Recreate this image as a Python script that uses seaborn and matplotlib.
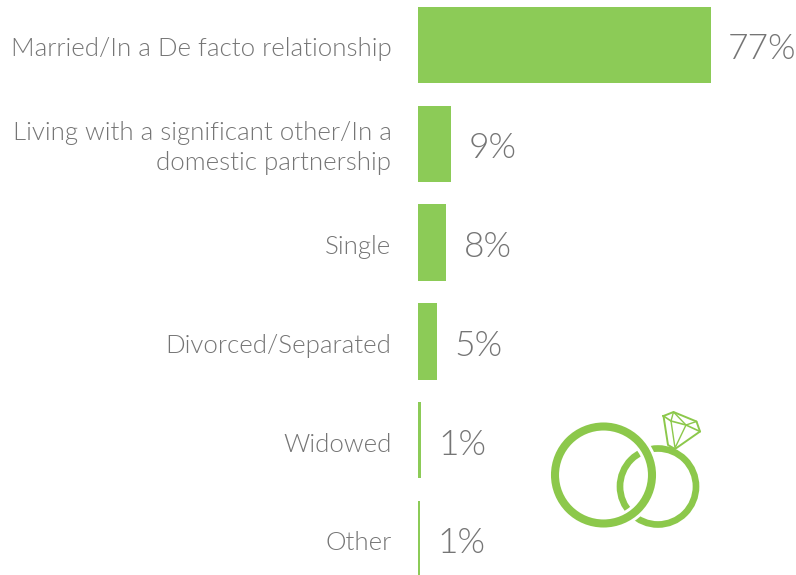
import matplotlib
matplotlib.use("Agg")
import matplotlib.pyplot as plt
from matplotlib import font_manager as fm
import seaborn as sns
import pandas as pd
from matplotlib.patches import Circle

categories = ["Married/In a De facto relationship",
              "Living with a significant other/In a\ndomestic partnership",
              "Single", "Divorced/Separated", "Widowed", "Other"]
values = [77, 8.9, 7.6, 5.1, 1, 0.7]
labels = ["77%", "9%", "8%", "5%", "1%", "1%"]
df = pd.DataFrame({"cat": categories, "val": values})

def light(size):
    for f in fm.fontManager.ttflist:
        if f.fname.endswith("Lato-Light.ttf"):
            return fm.FontProperties(fname=f.fname, size=size)
    return fm.FontProperties(family="Roboto", weight="light", size=size)

W, H = 796, 575
fig = plt.figure(figsize=(W/100, H/100), dpi=100)
ax = fig.add_axes([0, 0, 1, 1])
sns.barplot(data=df, y="cat", x="val", color="#8CCB57", saturation=1, width=0.775, ax=ax, orient="h")
sx = (711-417.5)/77
ax.set_xlim(-417.5/sx, (W-417.5)/sx)
sy = (539-45)/5
ax.set_ylim((H-45)/sy, -45/sy)
ax.axis("off")
for i, (c, v, l) in enumerate(zip(categories, values, labels)):
    ax.text(-26/sx, i + 0.045, c, ha="right", va="center", color="#757575",
            fontproperties=light(18.6), linespacing=1.32)
    ax.text(v + 17/sx, i + 0.045, l, ha="left", va="center", color="#757575",
            fontproperties=light(25.5))

ov = fig.add_axes([0, 0, 1, 1])
ov.set_xlim(0, W); ov.set_ylim(H, 0); ov.axis("off"); ov.patch.set_alpha(0)
g = "#8CC84B"
ov.add_patch(Circle((658, 486.5), 38, fill=False, ec=g, lw=4.8))
ov.add_patch(Circle((603.5, 475), 48.5, fill=False, ec="white", lw=10))
ov.add_patch(Circle((603.5, 475), 48.5, fill=False, ec=g, lw=5.8))
outline_x = [663.5, 673.5, 696.5, 700, 675, 668, 663.5]
outline_y = [416, 412, 421.5, 431.5, 449, 445, 416]
ov.plot(outline_x, outline_y, color=g, lw=1.4)
ov.plot([663.5, 671, 686, 700], [416, 421, 425, 431.5], color=g, lw=1.2)
ov.plot([671, 673.5, 686, 696.5], [421, 412, 425, 421.5], color=g, lw=1.0)
ov.plot([671, 675, 686], [421, 448, 425], color=g, lw=1.0)
fig.savefig("out.png", dpi=100)
